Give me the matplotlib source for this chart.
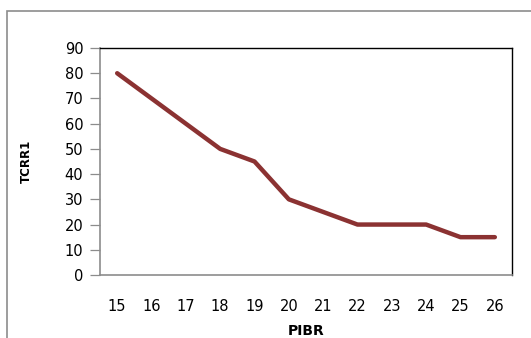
import matplotlib.pyplot as plt
from matplotlib.patches import Rectangle

# data
pibr = ["15", "16", "17", "18", "19", "20", "21", "22", "23", "24", "25", "26"]
tcrr1 = [80, 70, 60, 50, 45, 30, 25, 20, 20, 20, 15, 15]
y_ticks = [0, 10, 20, 30, 40, 50, 60, 70, 80, 90]

W, H = 531, 338
fig = plt.figure(figsize=(W / 100, H / 100), dpi=100)

# outer chart frame (cut off at right and bottom)
fig.add_artist(Rectangle((7 / W, -0.2), 1.2, 1.2 - 11 / H,
                         transform=fig.transFigure, fill=False,
                         edgecolor="#8c8c8c", linewidth=1.2))

ax = fig.add_axes([100 / W, (H - 275) / H, 412 / W, 227 / H])

x = range(len(pibr))
ax.plot(x, tcrr1, color="#8b3232", linewidth=3.2, solid_capstyle="round",
        solid_joinstyle="round")

ax.set_xlim(-0.5, len(pibr) - 0.5)
ax.set_ylim(0, 90)
ax.set_xticks(list(x))
ax.set_xticklabels(pibr)
ax.set_yticks(y_ticks)

ax.tick_params(axis="x", length=0, pad=17, labelsize=10.5)
ax.tick_params(axis="y", length=7, width=0.9, color="#8c8c8c", pad=5, labelsize=10.5)

for side in ["left", "bottom"]:
    ax.spines[side].set_color("#8c8c8c")
    ax.spines[side].set_linewidth(1.2)
for side in ["top", "right"]:
    ax.spines[side].set_color("black")
    ax.spines[side].set_linewidth(1.0)

ax.set_xlabel("PIBR", fontsize=10, fontweight="bold")
ax.set_ylabel("TCRR1", fontsize=8.5, fontweight="bold")
ax.xaxis.set_label_coords(0.5, -0.215)
ax.yaxis.set_label_coords(-0.163, 0.5)

fig.savefig("out.png", dpi=100)
plt.close()
